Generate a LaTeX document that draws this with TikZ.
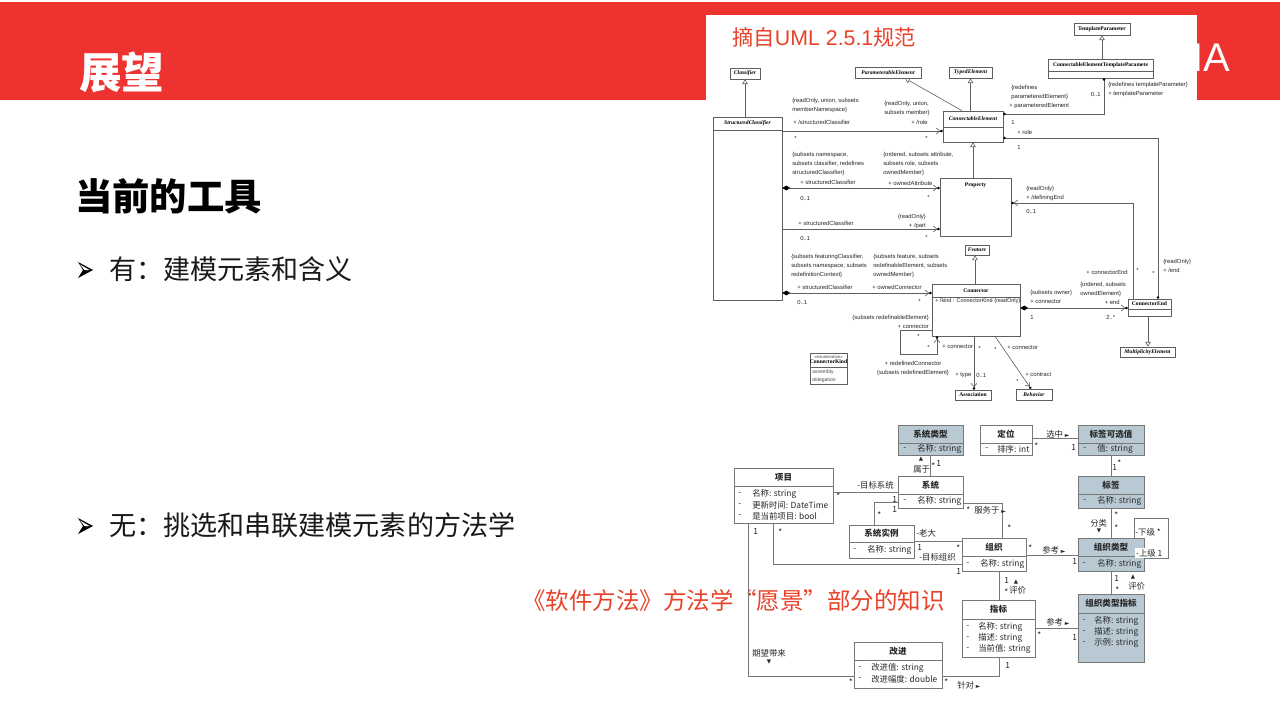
\documentclass[tikz,border=0pt]{standalone}
\usepackage{fontspec}
\setmainfont{Liberation Sans}
\newfontfamily\cjk{Noto Sans CJK SC}
\newfontfamily\usans{Liberation Sans}
\newfontfamily\userif{Liberation Serif}
\newfontfamily\symf{DejaVu Sans}
\usetikzlibrary{arrows.meta,fit}
\definecolor{bannerred}{RGB}{237,50,47}
\definecolor{txtred}{RGB}{233,66,42}
\definecolor{shadeb}{RGB}{184,201,211}
\definecolor{uline}{RGB}{95,95,95}
\definecolor{lline}{RGB}{120,120,120}
\definecolor{ltext}{RGB}{40,40,40}
\newcounter{nn}
\newcommand\tlab[3][]{\stepcounter{nn}\edef\nnname{t\arabic{nn}}\node[#1] (\nnname) at (#2) {#3};}
\newcommand\sy[1]{{\symf\fontsize{4.5}{5}\selectfont #1}}
\tikzset{
 ut/.style={font=\usans\fontsize{4.4}{6.6}\selectfont, inner sep=0, anchor=west, align=left, text=black!85},
 un/.style={font=\userif\bfseries\itshape\fontsize{4.2}{5}\selectfont, inner sep=0},
 unu/.style={font=\userif\bfseries\fontsize{4.2}{5}\selectfont, inner sep=0},
 ubox/.style={draw=uline, fill=white, line width=0.45pt, inner sep=0},
 uln/.style={draw=uline, line width=0.45pt},
 gen/.style={uln, -{Triangle[length=3.6pt, width=4.2pt, fill=white]}},
 nav/.style={uln, -{Straight Barb[length=2.6pt, width=4.4pt] Circle[length=1.8pt, color=black]}},
 comp/.style={uln, {Diamond[length=6pt, width=3.6pt, color=black, fill=black]}-{Straight Barb[length=2.6pt, width=4.4pt] Circle[length=1.8pt, color=black]}},
 lbox/.style={draw=lline, line width=0.6pt, inner sep=0},
 ltn/.style={font=\cjk\bfseries\fontsize{6.4}{8}\selectfont, inner sep=0, text=ltext},
 lt/.style={font=\cjk\fontsize{6.3}{8}\selectfont, inner sep=0, anchor=west, text=ltext},
 sym/.style={font=\symf\fontsize{4.2}{5}\selectfont, inner sep=0, text=ltext},
 lln/.style={draw=lline, line width=0.7pt},
}
\newcommand\lclass[8]{%
 \node[lbox, fill=#7, fit={(#2,#3) (#4,#6)}] (#1) {};
 \draw[lline, line width=0.6pt] (#2,#5) -- (#4,#5);
 \node[ltn] (#1t) at ({(#2+#4)/2},{(#3+#5)/2}) {#8};
}
\newcommand\lattr[4]{\tlab[lt]{#1,#3}{-}\tlab[lt]{#2,#3}{#4}}
\begin{document}
\begin{tikzpicture}[x=0.75pt,y=-0.75pt]
\useasboundingbox (0,0) rectangle (1280,720);
\fill[white] (0,0) rectangle (1280,720);
\fill[bannerred] (0,2) rectangle (1280,100);
\tlab[font=\usans\fontsize{30}{30}\selectfont, text=white, anchor=base west, inner sep=0]{1192,72}{IA}
\fill[white] (706,15) rectangle (1197,410);
% left texts
\tlab[font=\cjk\bfseries\fontsize{32}{32}\selectfont, text=white, anchor=west, inner sep=0]{79,72}{展望}
\tlab[font=\cjk\bfseries\fontsize{28}{28}\selectfont, anchor=west, inner sep=0]{75,196}{当前的工具}
\fill[black] (78,262) -- (93,270) -- (78,278) -- (83,270) -- cycle;
\fill[white] (80,264.5) -- (89.5,270) -- (84.5,270) -- cycle;
\tlab[font=\cjk\fontsize{20.3}{20}\selectfont, text=black!90, anchor=west, inner sep=0]{109,269}{有：建模元素和含义}
\fill[black] (78,518) -- (93,526) -- (78,534) -- (83,526) -- cycle;
\fill[white] (80,520.5) -- (89.5,526) -- (84.5,526) -- cycle;
\tlab[font=\cjk\fontsize{20.3}{20}\selectfont, text=black!90, anchor=west, inner sep=0]{109,525}{无：挑选和串联建模元素的方法学}
\tlab[font=\cjk\fontsize{16}{16}\selectfont, text=txtred, anchor=west, inner sep=0]{732,37}{摘自{\usans UML 2.5.1}规范}
\tlab[font=\cjk\fontsize{17.6}{18}\selectfont, text=txtred, anchor=west, inner sep=0]{522,601}{《软件方法》方法学“愿景”部分的知识}
% ===== UML excerpt =====
\node[ubox, fit={(1074,23) (1130,35)}] (tp) {};
\tlab[unu]{1102,29}{TemplateParameter}
\node[ubox, fit={(1048,59) (1153,78)}] (cetp) {};
\draw[uln] (1048,71) -- (1153,71);
\tlab[unu]{1100.5,65}{ConnectableElementTemplateParamete}
\node[ubox, fit={(730,68) (760,79)}] (clf) {};
\tlab[un]{745,73.5}{Classifier}
\node[ubox, fit={(855,67) (921,78)}] (pe) {};
\tlab[un]{888,72.5}{ParameterableElement}
\node[ubox, fit={(949,67) (992,78)}] (te) {};
\tlab[un]{970.5,72.5}{TypedElement}
\node[ubox, fit={(713,117) (782,300)}] (sc) {};
\draw[uln] (713,130) -- (782,130);
\tlab[un]{747.5,123.5}{StructuredClassifier}
\node[ubox, fit={(943,111) (1003,142)}] (ce) {};
\draw[uln] (943,127) -- (1003,127);
\tlab[un]{973,118.5}{ConnectableElement}
\node[ubox, fit={(940,178) (1011,236)}] (prop) {};
\tlab[unu]{975.5,185}{Property}
\node[ubox, fit={(965,245) (989,255)}] (feat) {};
\tlab[un]{977,250}{Feature}
\node[ubox, fit={(932,284) (1020,336)}] (conn) {};
\draw[uln] (932,297) -- (1020,297);
\tlab[unu]{976,290.5}{Connector}
\tlab[ut, font=\usans\fontsize{4.1}{5}\selectfont]{935,301.5}{+ /kind : ConnectorKind \{readOnly\}}
\node[ubox, fit={(1128,299) (1171,316)}] (cend) {};
\draw[uln] (1128,309) -- (1171,309);
\tlab[unu]{1149.5,304}{ConnectorEnd}
\node[ubox, fit={(1120,347) (1175,357)}] (mult) {};
\tlab[un]{1147.5,352}{MultiplicityElement}
\node[ubox, fit={(955,390) (991,400)}] (assoc) {};
\tlab[unu]{973,395}{Association}
\node[ubox, fit={(1016,389) (1052,400)}] (behav) {};
\tlab[un]{1034,394.5}{Behavior}
\node[ubox, fit={(810,353) (847,384)}] (ck) {};
\draw[uln] (810,367) -- (847,367);
\tlab[font=\usans\fontsize{3.2}{4}\selectfont, inner sep=0, text=black!75]{828.5,356.5}{«enumeration»}
\tlab[unu]{828.5,362}{ConnectorKind}
\tlab[ut, text=black!70, font=\usans\fontsize{3.8}{5}\selectfont]{812,372}{assembly}
\tlab[ut, text=black!70, font=\usans\fontsize{3.8}{5}\selectfont]{812,380}{delegation}
% generalizations
\draw[gen] (tp.south |- cetp.north) -- (tp.south);
\draw[gen] (clf.south |- sc.north) -- (clf.south);
\draw[gen] (ce.north -| 962,0) -- (pe.south -| 905,0);
\draw[gen] (te.south |- ce.north) -- (te.south);
\draw[gen] (prop.north -| 973,0) -- (ce.south -| 973,0);
\draw[gen] (conn.north -| 975,0) -- (feat.south -| 975,0);
\draw[gen] (cend.south -| 1148,0) -- (mult.north -| 1148,0);
% associations
\draw[nav] (sc.east |- 0,131) -- (ce.west |- 0,131);
\draw[comp] (sc.east |- 0,188) -- (prop.west |- 0,188);
\draw[nav] (sc.east |- 0,229) -- (prop.west |- 0,229);
\draw[comp] (sc.east |- 0,293) -- (conn.west |- 0,293);
\draw[uln, {Circle[length=1.8pt, color=black]}-{Circle[length=1.8pt, color=black]}] (ce.east |- 0,114) -- (1104,114) -- (cetp.south -| 1104,0);
\draw[uln, {Circle[length=1.8pt, color=black]}-{Circle[length=1.8pt, color=black]}] (ce.east |- 0,138) -- (1158,138) -- (cend.north -| 1158,0);
\draw[nav] (cend.north -| 1133,0) -- (1133,203) -- (prop.east |- 0,203);
\draw[comp] (conn.east |- 0,308) -- (cend.west |- 0,308);
\draw[nav] (conn.west |- 0,330) -- (900,330) -- (900,354) -- (937,354) -- (conn.south -| 937,0);
\draw[nav] (conn.south -| 974,0) -- (assoc.north -| 974,0);
\draw[nav] (conn.south -| 995,0) -- (behav.north -| 1031,0);
% UML labels
\tlab[ut,anchor=north west]{792,98}{\{readOnly, union, subsets\\memberNamespace\}}
\tlab[ut]{793,122}{+ /structuredClassifier}
\tlab[ut]{794,138}{*}
\tlab[ut,anchor=north west]{884,101}{\{readOnly, union,\\subsets member\}}
\tlab[ut,anchor=east]{928,122}{+ /role}
\tlab[ut]{925,138}{*}
\tlab[ut,anchor=north west]{1011,85}{\{redefines\\parameteredElement\}}
\tlab[ut]{1009,106}{+ parameteredElement}
\tlab[ut]{1011,122}{1}
\tlab[ut,anchor=east]{1101,94}{0..1}
\tlab[ut]{1108,85}{\{redefines templateParameter\}}
\tlab[ut]{1108,94}{+ templateParameter}
\tlab[ut]{1017,132}{+ role}
\tlab[ut]{1017,147}{1}
\tlab[ut,anchor=north west]{792,152}{\{subsets namespace,\\subsets classifier, redefines\\structuredClassifier\}}
\tlab[ut]{800,182}{+ structuredClassifier}
\tlab[ut]{800,198}{0..1}
\tlab[ut,anchor=north west]{883,152}{\{ordered, subsets attribute,\\subsets role, subsets\\ownedMember\}}
\tlab[ut]{888,183}{+ ownedAttribute}
\tlab[ut]{927,197}{*}
\tlab[ut]{798,223}{+ structuredClassifier}
\tlab[ut]{800,238}{0..1}
\tlab[ut,anchor=north east,align=right]{926,214}{\{readOnly\}\\+ /part}
\tlab[ut]{925,237}{*}
\tlab[ut,anchor=north west]{1026,186}{\{readOnly\}\\+ /definingEnd}
\tlab[ut]{1026,211}{0..1}
\tlab[ut,anchor=north west]{791,254}{\{subsets featuringClassifier,\\subsets namespace, subsets\\redefinitionContext\}}
\tlab[ut]{797,287}{+ structuredClassifier}
\tlab[ut]{797,302}{0..1}
\tlab[ut,anchor=north west]{873,254}{\{subsets feature, subsets\\redefinableElement, subsets\\ownedMember\}}
\tlab[ut]{872,287}{+ ownedConnector}
\tlab[ut]{918,301}{*}
\tlab[ut,anchor=north east,align=right]{929,315}{\{subsets redefinableElement\}\\+ connector}
\tlab[ut]{917,336}{*}
\tlab[ut]{927,347}{*}
\tlab[ut]{942,347}{+ connector}
\tlab[ut,anchor=north,align=center]{913,361}{+ redefinedConnector\\\{subsets redefinedElement\}}
\tlab[ut]{978,348}{*}
\tlab[ut]{955,375}{+ type}
\tlab[ut]{976,375}{0..1}
\tlab[ut]{994,349}{*}
\tlab[ut]{1007,348}{+ connector}
\tlab[ut]{1025,375}{+ contract}
\tlab[ut]{1016,381}{*}
\tlab[ut,anchor=east]{1128,272}{+ connectorEnd}
\tlab[ut]{1136,270}{*}
\tlab[ut]{1152,273}{*}
\tlab[ut,anchor=north west]{1163,259}{\{readOnly\}\\+ /end}
\tlab[ut,anchor=north west]{1030,290}{\{subsets owner\}\\+ connector}
\tlab[ut]{1030,317}{1}
\tlab[ut,anchor=north west]{1080,282}{\{ordered, subsets\\ownedElement\}}
\tlab[ut,anchor=east]{1120,302}{+ end}
\tlab[ut]{1106,317}{2..*}
% ===== lower domain model =====
\lclass{xtlx}{898}{425}{963}{443}{455}{shadeb}{系统类型}
\lattr{903}{917}{449}{名称: string}
\lclass{dw}{980}{425}{1032}{443}{455}{white}{定位}
\lattr{985}{997}{449}{排序: int}
\lclass{bqkx}{1078}{425}{1144}{443}{455}{shadeb}{标签可选值}
\lattr{1083}{1097}{449}{值: string}
\lclass{xm}{734}{468}{833}{486}{523}{white}{项目}
\lattr{738}{752}{494}{名称: string}
\lattr{738}{752}{505}{更新时间: DateTime}
\lattr{738}{752}{516}{是当前项目: bool}
\lclass{xt}{898}{476}{963}{494}{508}{white}{系统}
\lattr{903}{917}{501}{名称: string}
\lclass{bq}{1078}{476}{1144}{494}{508}{shadeb}{标签}
\lattr{1083}{1097}{501}{名称: string}
\lclass{xtsl}{849}{525}{914}{542}{558}{white}{系统实例}
\lattr{853}{867}{550}{名称: string}
\lclass{zz}{962}{538}{1026}{556}{571}{white}{组织}
\lattr{966}{980}{564}{名称: string}
\lclass{zzlx}{1078}{538}{1144}{556}{571}{shadeb}{组织类型}
\lattr{1082}{1097}{564}{名称: string}
\lclass{zzlxzb}{1078}{594}{1144}{613}{662}{shadeb}{组织类型指标}
\lattr{1082}{1094}{621}{名称: string}
\lattr{1082}{1094}{632}{描述: string}
\lattr{1082}{1094}{643}{示例: string}
\lclass{zb}{962}{600}{1035}{619}{657}{white}{指标}
\lattr{966}{978}{627}{名称: string}
\lattr{966}{978}{638}{描述: string}
\lattr{966}{978}{649}{当前值: string}
\lclass{gj}{854}{642}{942}{660}{688}{white}{改进}
\lattr{858}{871}{668}{改进值: string}
\lattr{858}{871}{679}{改进幅度: double}
% connectors
\draw[lln] (xtlx.south) -- (xt.north);
\draw[lln] (dw.east |- 0,438) -- (bqkx.west |- 0,438);
\draw[lln] (bqkx.south) -- (bq.north);
\draw[lln] (xm.east |- 0,492) -- (xt.west |- 0,492);
\draw[lln] (xt.west |- 0,502) -- (874,502) -- (xtsl.north -| 874,0);
\draw[lln] (xt.east |- 0,503) -- (1002,503) -- (zz.north -| 1002,0);
\draw[lln] (xtsl.east |- 0,541) -- (zz.west |- 0,541);
\draw[lln] (xm.south -| 773,0) -- (773,564) -- (zz.west |- 0,564);
\draw[lln] (zz.east |- 0,555) -- (zzlx.west |- 0,555);
\draw[lln] (bq.south) -- (zzlx.north);
\draw[lln] (zzlx.north -| 1134,0) -- (1134,518) -- (1168,518) -- (1168,558) -- (zzlx.east |- 0,558);
\draw[lln] (zzlx.south) -- (zzlxzb.north);
\draw[lln] (zz.south -| 999,0) -- (zb.north -| 999,0);
\draw[lln] (zb.east |- 0,628) -- (zzlxzb.west |- 0,628);
\draw[lln] (zb.south -| 999,0) -- (999,676) -- (gj.east |- 0,676);
\draw[lln] (xm.south -| 748,0) -- (748,676) -- (gj.west |- 0,676);
% connector labels
\tlab[sym]{921,459}{▲}
\tlab[lt]{913,469.5}{属于}
\tlab[lt]{931,466}{*}
\tlab[lt]{936,464}{1}
\tlab[lt]{1046,434}{选中 \sy{►}}
\tlab[lt]{1034,446}{*}
\tlab[lt]{1071,448}{1}
\tlab[lt]{1112,468}{1}
\tlab[lt]{1117,463}{*}
\tlab[lt]{857,485}{-目标系统}
\tlab[lt]{836,496}{*}
\tlab[lt]{892,500}{1}
\tlab[lt]{892,510}{1}
\tlab[lt]{877,515}{*}
\tlab[lt]{966,510}{*}
\tlab[lt]{974,510}{服务于 \sy{►}}
\tlab[lt]{1007,528}{*}
\tlab[lt]{916,533}{-老大}
\tlab[lt]{917,548}{1}
\tlab[lt]{919,557}{-目标组织}
\tlab[lt]{956,548}{*}
\tlab[lt]{753,532}{1}
\tlab[lt]{778,532}{*}
\tlab[lt]{956,572}{1}
\tlab[lt]{1042,550}{参考 \sy{►}}
\tlab[lt]{1028,548}{*}
\tlab[lt]{1072,562}{1}
\tlab[lt]{1090,523}{分类}
\tlab[sym]{1099,531}{▼}
\tlab[lt]{1114,515}{*}
\tlab[lt]{1114,528}{*}
\tlab[lt]{1135,532}{-下级 *}
\tlab[lt, fill=white, inner sep=0.6pt]{1135,553}{-上级 1}
\tlab[lt]{1114,578}{1}
\tlab[lt]{1115,590}{*}
\tlab[sym]{1133,577}{▲}
\tlab[lt]{1128,586}{评价}
\tlab[lt]{1004,580}{1}
\tlab[lt]{1004,592}{*}
\tlab[sym]{1016,582}{▲}
\tlab[lt]{1009,590}{评价}
\tlab[lt]{1046,622}{参考 \sy{►}}
\tlab[lt]{1037,635}{*}
\tlab[lt]{1072,637}{1}
\tlab[lt]{1005,665}{1}
\tlab[lt]{944,682}{*}
\tlab[lt]{957,685}{针对 \sy{►}}
\tlab[lt]{752,653}{期望带来}
\tlab[sym]{769,662}{▼}
\tlab[lt,anchor=east]{853,682}{*}
\end{tikzpicture}
\end{document}
